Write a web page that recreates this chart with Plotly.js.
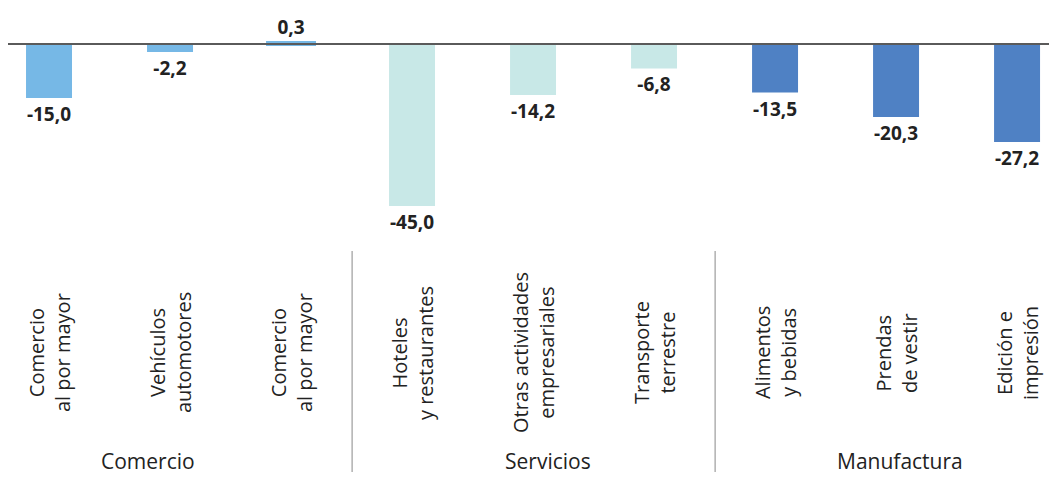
<!DOCTYPE html>
<html>
<head>
<meta charset="utf-8">
<script src="https://cdn.plot.ly/plotly-3.0.1.min.js"></script>
<style>html,body{margin:0;padding:0;background:#fff;}#chart{width:1049px;height:477px;}</style>
</head>
<body>
<div id="chart"></div>
<script>
// ---- data ----
var categories = [
  "Comercio<br>al por mayor", "Vehículos<br>automotores", "Comercio<br>al por mayor",
  "Hoteles<br>y restaurantes", "Otras actividades<br>empresariales", "Transporte<br>terrestre",
  "Alimentos<br>y bebidas", "Prendas<br>de vestir", "Edición e<br>impresión"
];
var values = [-15.0, -2.2, 0.3, -45.0, -14.2, -6.8, -13.5, -20.3, -27.2];
var groups = ["Comercio", "Servicios", "Manufactura"];
var groupOf = [0, 0, 0, 1, 1, 1, 2, 2, 2];
var groupColors = ["#76b8e6", "#c8e8e7", "#4f81c4"];

// ---- layout helpers (pixel geometry) ----
var H = 477, T = 0, B = 227;           // plot area from py 0 to 250
var plotH = H - T - B;
function paperY(py) { return (H - B - py) / plotH; }

var idx = categories.map(function (_, i) { return i; });
var fmt = function (v) { return v.toFixed(1).replace('.', ','); };
var barColors = groupOf.map(function (g) { return groupColors[g]; });
// thin bars get an outline of their own colour so they stay visible
var outlineW = values.map(function (v) { return Math.abs(v) < 1 ? 4 : 0; });

var trace = {
  type: 'bar',
  x: idx,
  y: values,
  width: 0.38,
  marker: { color: barColors, line: { color: barColors, width: outlineW } },
  text: values.map(fmt),
  textposition: 'outside',
  textfont: { family: 'Open Sans, sans-serif', size: 19, color: '#222', weight: 700 },
  constraintext: 'none',
  cliponaxis: false,
  hoverinfo: 'skip'
};

var annotations = [];
idx.forEach(function (i) {
  annotations.push({
    x: i, xref: 'x', y: paperY(353), yref: 'paper',
    text: categories[i], textangle: -90, showarrow: false,
    xanchor: 'center', yanchor: 'middle', align: 'center',
    font: { family: 'Open Sans, sans-serif', size: 20, color: '#222' }
  });
});
// group label centres (in category units)
var groupCenters = [0.82, 4.12, 7.03];
groups.forEach(function (g, k) {
  annotations.push({
    x: groupCenters[k], xref: 'x', y: paperY(461), yref: 'paper',
    text: g, showarrow: false, xanchor: 'center', yanchor: 'middle',
    font: { family: 'Open Sans, sans-serif', size: 21, color: '#222' }
  });
});

var shapes = [
  { type: 'line', xref: 'paper', yref: 'y', x0: 0, x1: 1, y0: 0, y1: 0,
    line: { color: '#5a5a5a', width: 2 }, layer: 'above' },
  { type: 'line', xref: 'x', yref: 'paper', x0: 2.505, x1: 2.505, y0: paperY(251), y1: paperY(472),
    line: { color: '#b0b0b0', width: 1.5 } },
  { type: 'line', xref: 'x', yref: 'paper', x0: 5.505, x1: 5.505, y0: paperY(251), y1: paperY(472),
    line: { color: '#b0b0b0', width: 1.5 } }
];

var pxPerUnit = 3.6;
var layout = {
  width: 1049, height: 477,
  margin: { l: 8, r: 0, t: T, b: B, pad: 0 },
  paper_bgcolor: '#fff', plot_bgcolor: '#fff',
  showlegend: false,
  xaxis: { range: [-0.339, 8.264], showgrid: false, zeroline: false, showticklabels: false, showline: false, fixedrange: true },
  yaxis: { range: [-(250 - 44) / pxPerUnit, 44 / pxPerUnit], showgrid: false, zeroline: false, showticklabels: false, showline: false, fixedrange: true },
  annotations: annotations,
  shapes: shapes,
  font: { family: 'Open Sans, sans-serif' }
};

Plotly.newPlot('chart', [trace], layout, { displayModeBar: false, staticPlot: true });
</script>
</body>
</html>
